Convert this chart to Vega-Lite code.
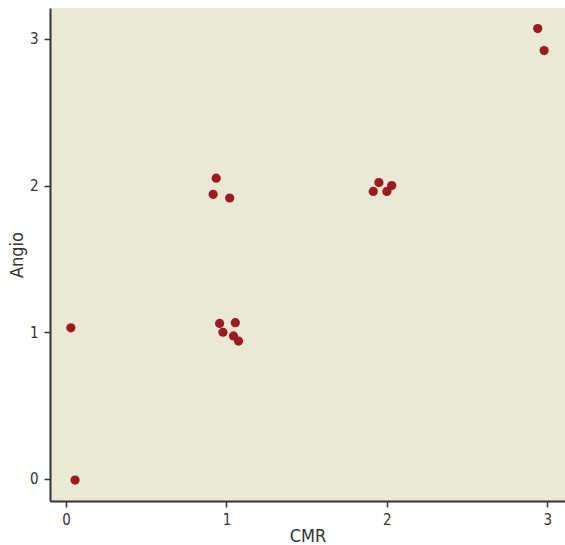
{
  "$schema": "https://vega.github.io/schema/vega-lite/v6.json",
  "autosize": {"type": "none"},
  "padding": {"left": 50, "top": 8, "right": 0, "bottom": 44},
  "width": 515,
  "height": 493,
  "background": "white",
  "config": {
    "view": {"fill": "#ece8d6", "stroke": null},
    "axis": {
      "labelFont": "'DejaVu Sans Condensed', 'Liberation Sans', sans-serif",
      "titleFont": "'DejaVu Sans Condensed', 'Liberation Sans', sans-serif",
      "labelFontSize": 15,
      "titleFontSize": 18,
      "labelColor": "#333333",
      "titleColor": "#333333",
      "titleFontWeight": "normal",
      "domainColor": "#333333",
      "domainWidth": 2,
      "tickColor": "#333333",
      "tickWidth": 1.5,
      "tickSize": 6,
      "grid": false
    }
  },
  "data": {
    "values": [
      {"CMR": 2.94, "Angio": 3.07},
      {"CMR": 2.98, "Angio": 2.92},
      {"CMR": 0.936, "Angio": 2.05},
      {"CMR": 0.917, "Angio": 1.94},
      {"CMR": 1.02, "Angio": 1.915},
      {"CMR": 1.95, "Angio": 2.02},
      {"CMR": 1.915, "Angio": 1.96},
      {"CMR": 2.0, "Angio": 1.96},
      {"CMR": 2.03, "Angio": 2.0},
      {"CMR": 0.03, "Angio": 1.03},
      {"CMR": 0.056, "Angio": -0.007},
      {"CMR": 0.957, "Angio": 1.06},
      {"CMR": 1.055, "Angio": 1.065},
      {"CMR": 0.978, "Angio": 1.0},
      {"CMR": 1.044, "Angio": 0.975},
      {"CMR": 1.075, "Angio": 0.94}
    ]
  },
  "mark": {"type": "circle", "size": 85, "color": "#9b1b20", "opacity": 1},
  "encoding": {
    "x": {
      "field": "CMR", "type": "quantitative", "title": "CMR",
      "scale": {"domain": [-0.1, 3.11], "nice": false, "zero": false},
      "axis": {"values": [0, 1, 2, 3], "labelPadding": 5, "titlePadding": 0}
    },
    "y": {
      "field": "Angio", "type": "quantitative", "title": "Angio",
      "scale": {"domain": [-0.15, 3.21], "nice": false, "zero": false},
      "axis": {"values": [0, 1, 2, 3], "labelPadding": 6, "titlePadding": 3}
    }
  }
}
